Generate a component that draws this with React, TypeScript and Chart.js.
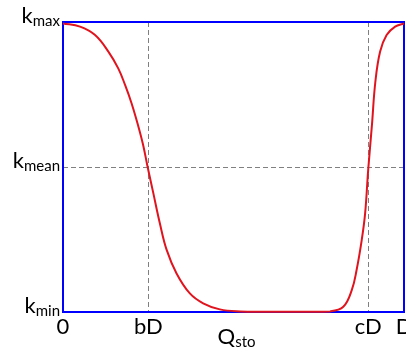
import { useEffect, useRef } from 'react';
import { Chart, registerables } from 'chart.js';

Chart.register(...registerables);

// Curve samples (Q_sto as fraction of D, k normalised between k_min and k_max)
const qValues = [0, 0.05, 0.094, 0.133, 0.162, 0.182, 0.201, 0.221, 0.235, 0.248, 0.265, 0.284, 0.304, 0.333, 0.372, 0.411, 0.46, 0.52, 0.6, 0.7, 0.783, 0.822, 0.847, 0.861, 0.876, 0.886, 0.895, 0.906, 0.916, 0.93, 0.949, 0.974, 1.0];
const kValues = [0.995, 0.984, 0.955, 0.898, 0.84, 0.783, 0.72, 0.64, 0.576, 0.501, 0.409, 0.306, 0.214, 0.133, 0.064, 0.03, 0.009, 0.002, 0.001, 0.001, 0.002, 0.018, 0.076, 0.145, 0.248, 0.34, 0.49, 0.645, 0.794, 0.898, 0.955, 0.984, 0.995];

const xTickValues = [0, 0.25, 0.895, 1];
const xTickLabels = ['0', 'bD', 'cD', 'D'];
const xRefLines = [0.25, 0.895];
const yTickValues = [0, 0.5, 1];
const yRefLines = [0.5];
const yTickMain = ['k', 'k', 'k'];
const yTickSub = ['min', 'mean', 'max'];
const xTitleMain = 'Q';
const xTitleSub = 'sto';

const FONT = 'Lato, "Open Sans", sans-serif';
const MAIN_SIZE = 22;
const SUB_SIZE = 15;

const labelPlugin = {
  id: 'customLabels',
  beforeDatasetsDraw(chart: any) {
    const { ctx, chartArea, scales } = chart;
    ctx.save();
    // dashed reference lines
    ctx.strokeStyle = '#808080';
    ctx.lineWidth = 1;
    ctx.setLineDash([5, 3]);
    xRefLines.forEach((v) => {
      const px = Math.round(scales.x.getPixelForValue(v)) + 0.5;
      ctx.beginPath();
      ctx.moveTo(px, chartArea.top);
      ctx.lineTo(px, chartArea.bottom);
      ctx.stroke();
    });
    yRefLines.forEach((v) => {
      const py = Math.round(scales.y.getPixelForValue(v)) + 0.5;
      ctx.beginPath();
      ctx.moveTo(chartArea.left, py);
      ctx.lineTo(chartArea.right, py);
      ctx.stroke();
    });
    ctx.setLineDash([]);
    // blue frame
    ctx.strokeStyle = 'rgb(0,0,255)';
    ctx.lineWidth = 2;
    ctx.strokeRect(chartArea.left, chartArea.top, chartArea.right - chartArea.left, chartArea.bottom - chartArea.top);
    ctx.restore();
  },
  afterDraw(chart: any) {
    const { ctx, chartArea, scales } = chart;
    ctx.save();
    ctx.fillStyle = '#000';
    ctx.textBaseline = 'alphabetic';
    ctx.textAlign = 'left';
    // y labels with subscripts
    yTickValues.forEach((v, i) => {
      const py = scales.y.getPixelForValue(v);
      ctx.font = `${MAIN_SIZE}px ${FONT}`;
      const mw = ctx.measureText(yTickMain[i]).width;
      ctx.font = `${SUB_SIZE}px ${FONT}`;
      const sw = ctx.measureText(yTickSub[i]).width;
      const right = chartArea.left - 3;
      ctx.font = `${MAIN_SIZE}px ${FONT}`;
      ctx.fillText(yTickMain[i], right - sw - mw, py + 1);
      ctx.font = `${SUB_SIZE}px ${FONT}`;
      ctx.fillText(yTickSub[i], right - sw, py + 4);
    });
    // x title with subscript
    ctx.font = `${MAIN_SIZE}px ${FONT}`;
    const qw = ctx.measureText(xTitleMain).width;
    ctx.font = `${SUB_SIZE}px ${FONT}`;
    const stw = ctx.measureText(xTitleSub).width;
    const cx = (chartArea.left + chartArea.right) / 2 + 3;
    const start = cx - (qw + stw) / 2;
    ctx.font = `${MAIN_SIZE}px ${FONT}`;
    ctx.fillText(xTitleMain, start, chartArea.bottom + 32);
    ctx.font = `${SUB_SIZE}px ${FONT}`;
    ctx.fillText(xTitleSub, start + qw, chartArea.bottom + 35);
    ctx.restore();
  },
};

export default function App() {
  const canvasRef = useRef<HTMLCanvasElement | null>(null);

  useEffect(() => {
    const canvas = canvasRef.current;
    if (!canvas) return;

    const chart = new Chart(canvas, {
      type: 'line',
      data: {
        datasets: [
          {
            data: qValues.map((q, i) => ({ x: q, y: kValues[i] })),
            borderColor: '#e0141e',
            borderWidth: 2,
            pointRadius: 0,
            tension: 0.4,
            fill: false,
            clip: false as any,
          },
        ],
      },
      options: {
        responsive: false,
        animation: false,
        devicePixelRatio: 1,
        layout: { padding: { top: 22, right: 2, left: 0, bottom: 0 }, autoPadding: false } as any,
        plugins: { legend: { display: false }, tooltip: { enabled: false } },
        scales: {
          x: {
            type: 'linear',
            min: 0,
            max: 1,
            afterBuildTicks: (s: any) => {
              s.ticks = xTickValues.map((v) => ({ value: v }));
            },
            afterFit: (s: any) => {
              s.height = 42;
              s.paddingLeft = 0;
              s.paddingRight = 0;
            },
            ticks: {
              autoSkip: false,
              maxRotation: 0,
              minRotation: 0,
              padding: 2,
              color: '#000',
              font: { family: FONT, size: MAIN_SIZE },
              callback: (_v: any, i: number) => xTickLabels[i],
            },
            grid: { display: false, drawTicks: false },
            border: { display: false },
          },
          y: {
            type: 'linear',
            min: 0,
            max: 1,
            afterBuildTicks: (s: any) => {
              s.ticks = yTickValues.map((v) => ({ value: v }));
            },
            afterFit: (s: any) => {
              s.width = 63;
            },
            ticks: { display: false },
            grid: { display: false, drawTicks: false },
            border: { display: false },
          },
        },
      } as any,
      plugins: [labelPlugin],
    });
    return () => chart.destroy();
  }, []);

  return (
    <div style={{ position: 'fixed', left: 0, top: 0, width: 406, height: 354, background: '#fff' }}>
      <canvas ref={canvasRef} width={406} height={354} style={{ display: 'block' }} />
    </div>
  );
}
